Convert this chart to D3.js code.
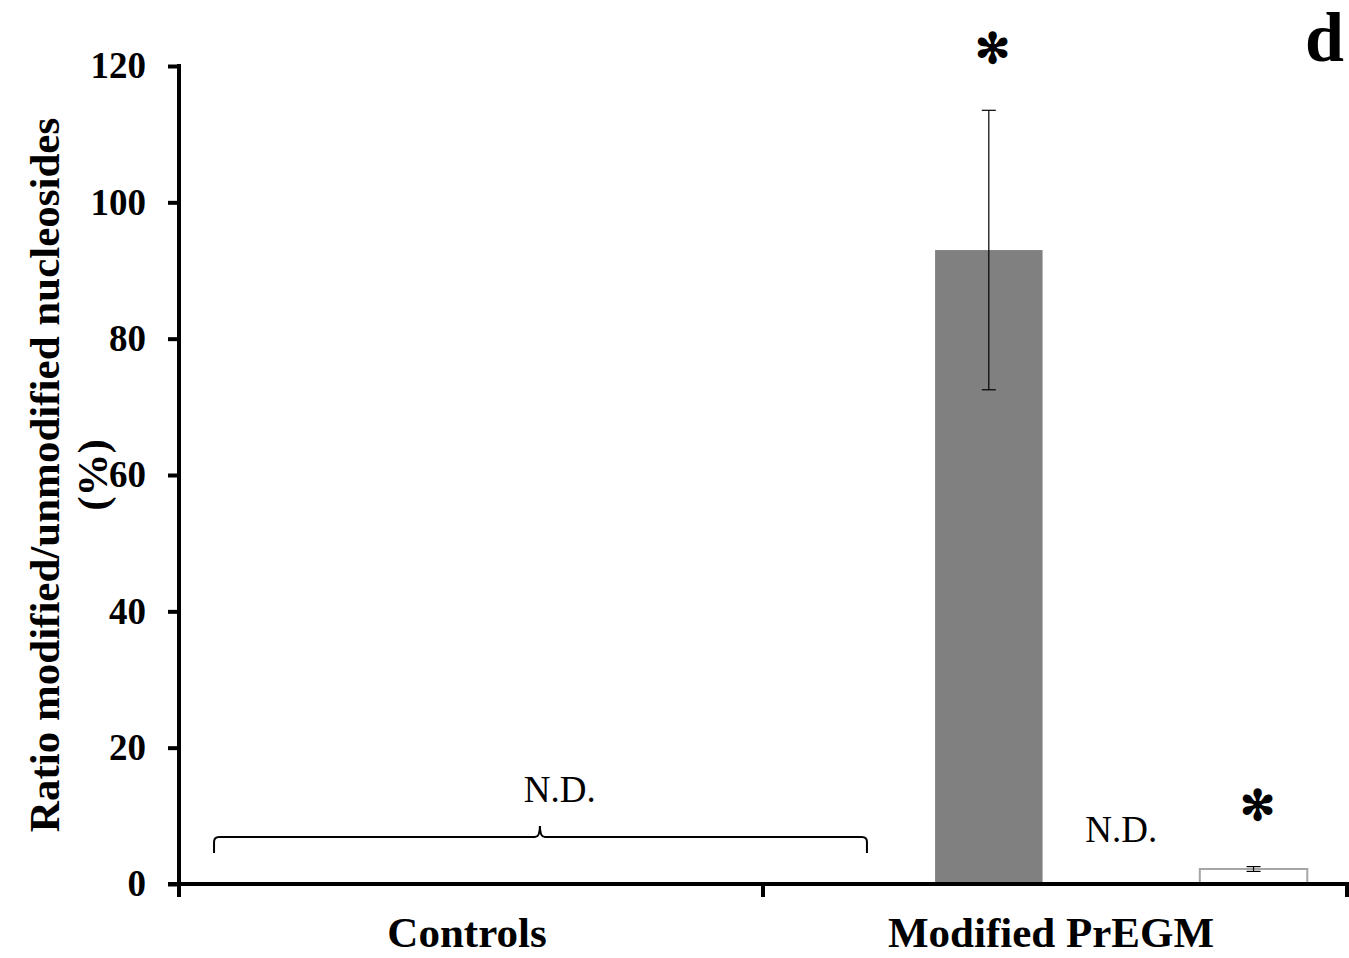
<!DOCTYPE html>
<html><head><meta charset="utf-8">
<script src="https://cdn.jsdelivr.net/npm/d3@7"></script>
<style>
html,body{margin:0;padding:0;background:#fff;}
svg text{font-family:"Liberation Serif","Times New Roman",serif;}
</style></head>
<body>
<svg id="chart" width="1349" height="958"></svg>
<script>
// ---- data ----
const categories = ["Controls", "Modified PrEGM"];
const seriesKeys = ["s1", "s2", "s3", "s4"];
// values per category, per series (null = not detected)
const controlsValues = [null, null, null, null];
const modifiedValues = [0, 93.0, null, 2.2];
const controlsErrors = [0, 0, 0, 0];
const modifiedErrors = [0, 20.5, 0, 0.35];
const seriesFills = ["#ffffff", "#808080", "#ffffff", "#ffffff"];
const seriesStrokes = ["none", "none", "none", "#a6a6a6"];
const significant = [false, true, false, true]; // for Modified PrEGM
const yTicks = [0, 20, 40, 60, 80, 100, 120];
const yTitle1 = "Ratio modified/unmodified nucleosides";
const yTitle2 = "(%)";
const panelLetter = "d";
const ndLabel = "N.D.";
const sigMark = "✻";
// brace annotation in category-position units (0 = start of Controls, 2 = end of Modified)
const braceStart = 0.06, braceEnd = 1.178, braceTip = 0.618, braceLabelPos = 0.652;

// ---- layout ----
const svg = d3.select("#chart");
const x0 = 179, x1 = 1347, yTop = 66, yBot = 884;

const y = d3.scaleLinear().domain([0, 120]).range([yBot, yTop]);
const xCat = d3.scaleBand().domain(categories).range([x0, x1]).paddingInner(0).paddingOuter(0);
const xSer = d3.scaleBand().domain(seriesKeys).range([0, xCat.bandwidth()])
  .paddingInner(0.188).paddingOuter(0.3);
const xPos = d3.scaleLinear().domain([0, 2]).range([x0, x1]);

const data = [
  {cat: categories[0], values: controlsValues, errors: controlsErrors},
  {cat: categories[1], values: modifiedValues, errors: modifiedErrors}
];

// bars
data.forEach(d => {
  const g = svg.append("g").attr("transform", `translate(${xCat(d.cat)},0)`);
  seriesKeys.forEach((k, i) => {
    const v = d.values[i];
    if (v == null || v === 0) return;
    g.append("rect")
      .attr("x", xSer(k)).attr("width", xSer.bandwidth())
      .attr("y", y(v)).attr("height", y(0) - y(v))
      .attr("fill", seriesFills[i])
      .attr("stroke", seriesStrokes[i]).attr("stroke-width", 2);
    const e = d.errors[i];
    if (e > 0) {
      const cx = xSer(k) + xSer.bandwidth() / 2;
      const eg = g.append("g").attr("stroke", "#000").attr("stroke-width", 1.2);
      eg.append("line").attr("x1", cx).attr("x2", cx).attr("y1", y(v + e)).attr("y2", y(v - e));
      eg.append("line").attr("x1", cx - 7).attr("x2", cx + 7).attr("y1", y(v + e)).attr("y2", y(v + e));
      eg.append("line").attr("x1", cx - 7).attr("x2", cx + 7).attr("y1", y(v - e)).attr("y2", y(v - e));
    }
  });
});

// Modified N.D. label and asterisks
const mod = data[1];
seriesKeys.forEach((k, i) => {
  const cx = xCat(mod.cat) + xSer(k) + xSer.bandwidth() / 2;
  if (mod.values[i] == null) {
    svg.append("text").attr("x", cx).attr("y", 842)
      .attr("text-anchor", "middle").attr("font-size", 37).text(ndLabel);
  }
  if (significant[i]) {
    const top = mod.values[i] + mod.errors[i];
    svg.append("text").attr("x", cx + 4).attr("y", y(top) - 61)
      .attr("text-anchor", "middle").attr("dominant-baseline", "central")
      .attr("font-family", "DejaVu Sans").attr("font-size", 42).attr("font-weight", "bold").text(sigMark);
  }
});

// brace over Controls
const bx0 = xPos(braceStart), bx1 = xPos(braceEnd), bt = xPos(braceTip);
const by = 837, r = 5;
const bracePath = `M${bx0},853 L${bx0},${by + r} Q${bx0},${by} ${bx0 + r},${by} L${bt - r},${by} Q${bt},${by} ${bt},${by - r - 6} Q${bt},${by} ${bt + r},${by} L${bx1 - r},${by} Q${bx1},${by} ${bx1},${by + r} L${bx1},853`;
svg.append("path").attr("d", bracePath).attr("fill", "none").attr("stroke", "#000").attr("stroke-width", 2);
svg.append("text").attr("x", xPos(braceLabelPos)).attr("y", 802)
  .attr("text-anchor", "middle").attr("font-size", 37).text(ndLabel);

// y axis
const yAxis = d3.axisLeft(y).tickValues(yTicks).tickSize(11).tickSizeOuter(0).tickPadding(22);
const gy = svg.append("g").attr("transform", `translate(${x0},0)`).call(yAxis);
gy.select(".domain").attr("stroke-width", 4).attr("d", `M0,${yTop - 2}V${yBot + 13}`);
gy.selectAll(".tick line").attr("stroke-width", 4);
gy.selectAll(".tick text").attr("font-size", 37).attr("font-weight", "bold")
  .attr("font-family", "Liberation Serif, Times New Roman, serif").attr("fill", "#000");

// x axis
const xAxis = d3.axisBottom(xCat).tickSize(0).tickSizeOuter(0).tickPadding(32);
const gx = svg.append("g").attr("transform", `translate(0,${yBot})`).call(xAxis);
gx.select(".domain").attr("stroke-width", 4).attr("d", `M${x0 - 11},0H${x1 + 2}`);
gx.selectAll(".tick text").attr("font-size", 43).attr("font-weight", "bold").attr("dx", -4)
  .attr("font-family", "Liberation Serif, Times New Roman, serif").attr("fill", "#000");
// category boundary ticks
const boundaries = [x0, xCat(categories[1]), x1];
gx.selectAll(".bound").data(boundaries).enter().append("line")
  .attr("x1", d => d).attr("x2", d => d).attr("y1", 0).attr("y2", 13)
  .attr("stroke", "#000").attr("stroke-width", 4);

// y title
svg.append("text").attr("transform", `translate(59,${(yTop + yBot) / 2}) rotate(-90)`)
  .attr("text-anchor", "middle").attr("font-size", 43).attr("font-weight", "bold").text(yTitle1);
svg.append("text").attr("transform", `translate(107,${(yTop + yBot) / 2}) rotate(-90)`)
  .attr("text-anchor", "middle").attr("font-size", 43).attr("font-weight", "bold").text(yTitle2);

// panel letter
svg.append("text").attr("x", 1344).attr("y", 61).attr("text-anchor", "end")
  .attr("font-size", 70).attr("font-weight", "bold").text(panelLetter);
</script>
</body></html>
